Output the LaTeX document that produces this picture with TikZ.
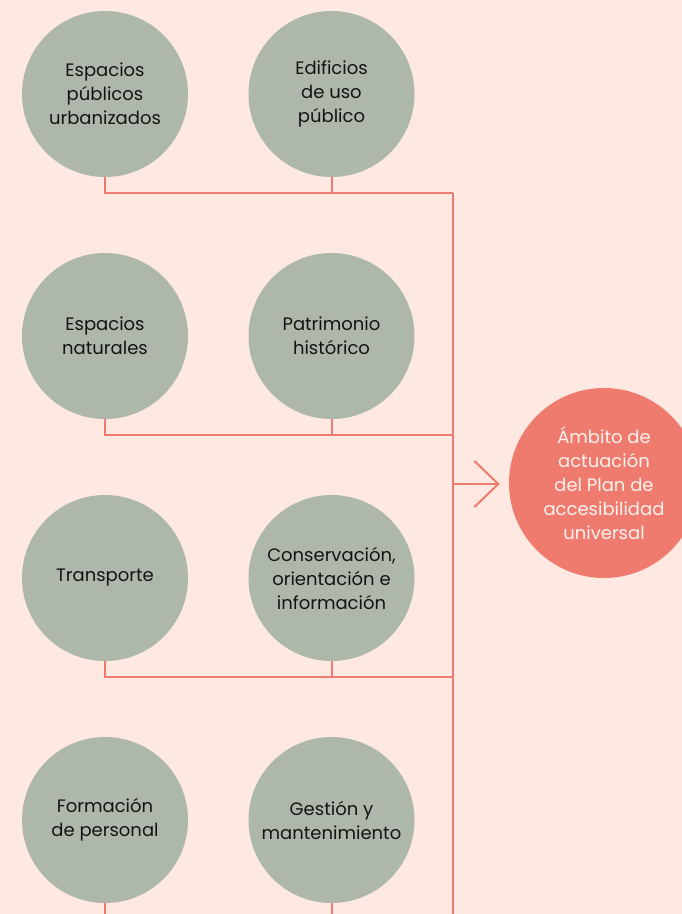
\documentclass[tikz,border=0pt]{standalone}
\usepackage{fontspec}
\setmainfont{Poppins}
\usetikzlibrary{arrows.meta}
\definecolor{bgc}{HTML}{FDE8E2}
\definecolor{sage}{HTML}{ADB8AA}
\definecolor{coral}{HTML}{EF7B6F}
\definecolor{txt}{HTML}{141414}
\definecolor{lighttxt}{HTML}{FFF2EE}
\tikzset{
  x=1pt,y=1pt,
  topic/.style={circle,fill=sage,minimum size=166pt,inner sep=0pt,align=center,text=txt,
    font=\fontsize{18}{24}\selectfont},
  goal/.style={circle,fill=coral,minimum size=190pt,inner sep=0pt,align=center,text=lighttxt,
    font=\fontsize{18}{24}\selectfont},
  link/.style={draw=coral,line width=2pt},
  pointer/.style={link,-{Straight Barb[length=24pt,width=46pt]},shorten >=9pt}
}
\begin{document}
\begin{tikzpicture}
\useasboundingbox (0,0) rectangle (682,-914);
\clip (0,0) rectangle (682,-914);
\fill[bgc] (0,0) rectangle (682,-914);
\node[topic] (a1) at (105,-94) {Espacios\\públicos\\urbanizados};
\node[topic] (a2) at (331.5,-94) {Edificios\\de uso\\público};
\node[topic] (b1) at (105,-336) {Espacios\\naturales};
\node[topic] (b2) at (331.5,-336) {Patrimonio\\histórico};
\node[topic] (c1) at (105,-578) {Transporte};
\node[topic] (c2) at (331.5,-578) {Conservación,\\orientación e\\información};
\node[topic] (d1) at (105,-820) {Formación\\de personal};
\node[topic] (d2) at (331.5,-820) {Gestión y\\mantenimiento};
\node[goal] (g) at (604,-483) {Ámbito de\\actuación\\del Plan de\\accesibilidad\\universal};
\coordinate (ja) at (453,-193);
\coordinate (jb) at (453,-435);
\coordinate (jc) at (453,-677);
\coordinate (jd) at (453,-919);
\coordinate (jarrow) at (453,-484);
\coordinate (jend) at (453,-930);
\draw[link] (a1.south) |- (ja);
\draw[link] (a2.south) -- (a2.south |- ja);
\draw[link] (b1.south) |- (jb);
\draw[link] (b2.south) -- (b2.south |- jb);
\draw[link] (c1.south) |- (jc);
\draw[link] (c2.south) -- (c2.south |- jc);
\draw[link] (d1.south) |- (jd);
\draw[link] (d2.south) -- (d2.south |- jd);
\draw[link] (ja) -- (jend);
\draw[pointer] (jarrow) -- (g.west |- jarrow);
\end{tikzpicture}
\end{document}
